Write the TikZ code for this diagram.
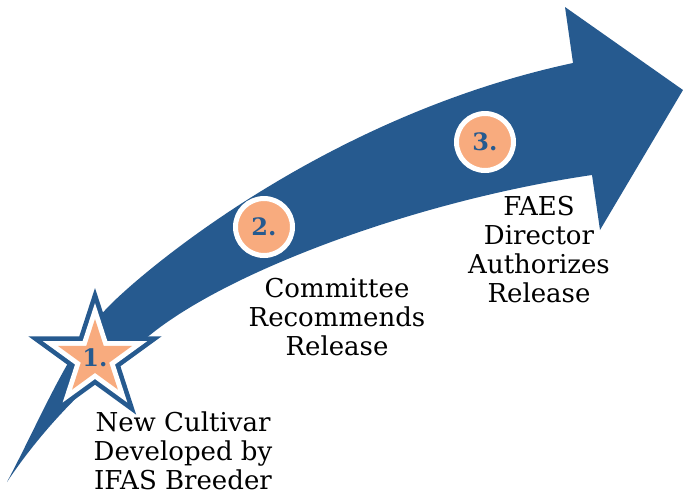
\documentclass[tikz,border=0pt]{standalone}
\usepackage{fontspec}
\setmainfont{DejaVu Serif}
\newfontfamily\numfont{DejaVu Serif}
\definecolor{arrowblue}{RGB}{38,90,143}
\definecolor{peach}{RGB}{248,171,126}
\newcommand\starpath[2]{(270:#1) -- (306:#2) -- (342:#1) -- (18:#2) -- (54:#1) -- (90:#2) -- (126:#1) -- (162:#2) -- (198:#1) -- (234:#2) -- cycle}
\begin{document}
\begin{tikzpicture}[x=1pt,y=-1pt,
  lbl/.style={align=center, font=\fontsize{26}{29}\selectfont, inner sep=0pt},
  num/.style={font=\numfont\bfseries\fontsize{24}{24}\selectfont, text=arrowblue},
  badge/.style={circle, fill=peach, draw=white, line width=5pt, minimum size=57pt, inner sep=0pt, num}]
\useasboundingbox (0,0) rectangle (683,499);
% curved arrow
\fill[arrowblue] (7,482) .. controls (40,420) and (70,345) .. (110,305)
  .. controls (150,265) and (330,115) .. (573,63)
  -- (565,7) -- (683,90) -- (600,230) -- (592,175)
  .. controls (420,200) and (230,270) .. (150,335)
  .. controls (95,375) and (45,425) .. (7,482) -- cycle;
% star
\begin{scope}[shift={(95,358)}]
  \fill[arrowblue] \starpath{70}{26.74};
  \fill[white] \starpath{55}{21.0};
  \fill[peach] \starpath{39}{14.9};
\end{scope}
\node[num] (n1) at (95,358) {1.};
\node[badge] (c2) at (264,227) {2.};
\node[badge] (c3) at (485,142) {3.};
% labels
\node[lbl, anchor=north] (t1) at (183,412) {New Cultivar\\Developed by\\IFAS Breeder};
\node[lbl, anchor=north] (t2) at (337,278) {Committee\\Recommends\\Release};
\node[lbl, anchor=north] (t3) at (539,196) {FAES\\Director\\Authorizes\\Release};
\end{tikzpicture}
\end{document}
